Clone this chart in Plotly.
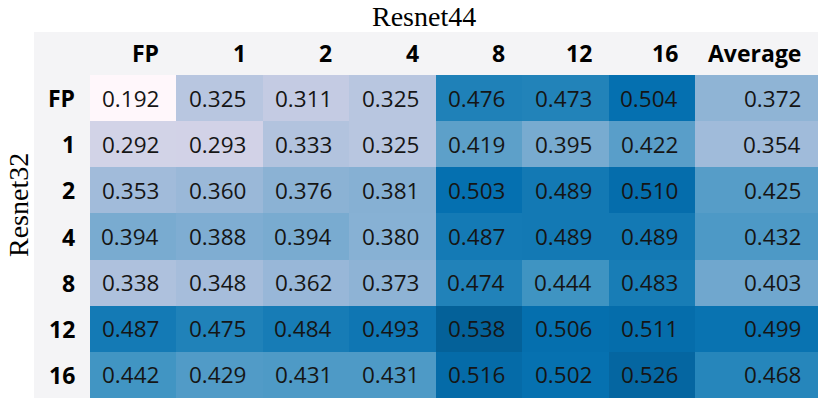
import plotly.graph_objects as go
import plotly.colors as pc

# ---- data ----
row_labels = ["FP", "1", "2", "4", "8", "12", "16"]
col_labels = ["FP", "1", "2", "4", "8", "12", "16", "Average"]

row_FP = [0.192, 0.325, 0.311, 0.325, 0.476, 0.473, 0.504, 0.372]
row_1 = [0.292, 0.293, 0.333, 0.325, 0.419, 0.395, 0.422, 0.354]
row_2 = [0.353, 0.360, 0.376, 0.381, 0.503, 0.489, 0.510, 0.425]
row_4 = [0.394, 0.388, 0.394, 0.380, 0.487, 0.489, 0.489, 0.432]
row_8 = [0.338, 0.348, 0.362, 0.373, 0.474, 0.444, 0.483, 0.403]
row_12 = [0.487, 0.475, 0.484, 0.493, 0.538, 0.506, 0.511, 0.499]
row_16 = [0.442, 0.429, 0.431, 0.431, 0.516, 0.502, 0.526, 0.468]

title_top = "Resnet44"
title_left = "Resnet32"

z = [row_FP, row_1, row_2, row_4, row_8, row_12, row_16]

# ---- layout geometry ----
col_widths = [1, 1, 1, 1, 1, 1, 1, 1.423]
x_edges = [0.0]
for w in col_widths:
    x_edges.append(x_edges[-1] + w)
y_edges = list(range(len(row_labels) + 1))

flat = [v for r in z for v in r]
vmin, vmax = min(flat), max(flat)
zmin = vmin
zmax = vmax + 0.2 * (vmax - vmin)

W, H = 822, 406
ml, mr, mt, mb = 90, 4, 75, 8
pw, ph = W - ml - mr, H - mt - mb

fig = go.Figure(go.Heatmap(
    z=z, x=x_edges, y=y_edges,
    colorscale=pc.sequential.PuBu, zmin=zmin, zmax=zmax,
    showscale=False, hoverinfo="skip",
))

num_font = dict(family="Open Sans, Noto Sans, sans-serif", size=22.5, color="#151515")
hdr_font = dict(family="Open Sans, Noto Sans, sans-serif", size=23, color="#000000")
serif_font = dict(family="Liberation Serif, DejaVu Serif, serif", size=28, color="#000000")

annotations = []
for i, row in enumerate(z):
    for j, v in enumerate(row):
        annotations.append(dict(
            x=x_edges[j + 1], y=i + 0.5, xref="x", yref="y",
            text=f"{v:.3f}", showarrow=False, xanchor="right", yanchor="middle",
            xshift=-15, font=num_font,
        ))
for j, c in enumerate(col_labels):
    annotations.append(dict(
        x=x_edges[j + 1], y=1, xref="x", yref="paper",
        text=f"<b>{c}</b>", showarrow=False, xanchor="right", yanchor="middle",
        xshift=-15, yshift=22, font=hdr_font,
    ))
for i, r in enumerate(row_labels):
    annotations.append(dict(
        x=0, y=i + 0.5, xref="paper", yref="y",
        text=f"<b>{r}</b>", showarrow=False, xanchor="right", yanchor="middle",
        xshift=-13, font=hdr_font,
    ))
# titles
annotations.append(dict(
    x=(424 - ml) / pw, y=1, xref="paper", yref="paper", text=title_top,
    showarrow=False, xanchor="center", yanchor="middle", yshift=mt - 16,
    font=serif_font,
))
annotations.append(dict(
    x=(18 - ml) / pw, y=(H - mb - 205) / ph, xref="paper", yref="paper",
    text=title_left, showarrow=False, xanchor="center", yanchor="middle",
    textangle=-90, font=serif_font,
))

hdr_color = "#f4f4f6"
shapes = [
    dict(type="rect", xref="paper", yref="paper", x0=-(ml - 34) / pw, x1=1,
         y0=1, y1=1 + 43 / ph, fillcolor=hdr_color, line=dict(width=0), layer="below"),
    dict(type="rect", xref="paper", yref="paper", x0=-(ml - 34) / pw, x1=0,
         y0=0, y1=1, fillcolor=hdr_color, line=dict(width=0), layer="below"),
]

fig.update_layout(
    width=W, height=H,
    margin=dict(l=ml, r=mr, t=mt, b=mb),
    paper_bgcolor="white", plot_bgcolor="white",
    xaxis=dict(range=[x_edges[0], x_edges[-1]], showticklabels=False, showgrid=False,
               zeroline=False, ticks="", fixedrange=True),
    yaxis=dict(range=[y_edges[-1], y_edges[0]], showticklabels=False, showgrid=False,
               zeroline=False, ticks="", fixedrange=True),
    annotations=annotations, shapes=shapes,
)

fig.write_html(
    "out.html",
    config={"displayModeBar": False},
    post_script="document.body.style.margin='0';document.body.style.overflow='hidden';",
)
